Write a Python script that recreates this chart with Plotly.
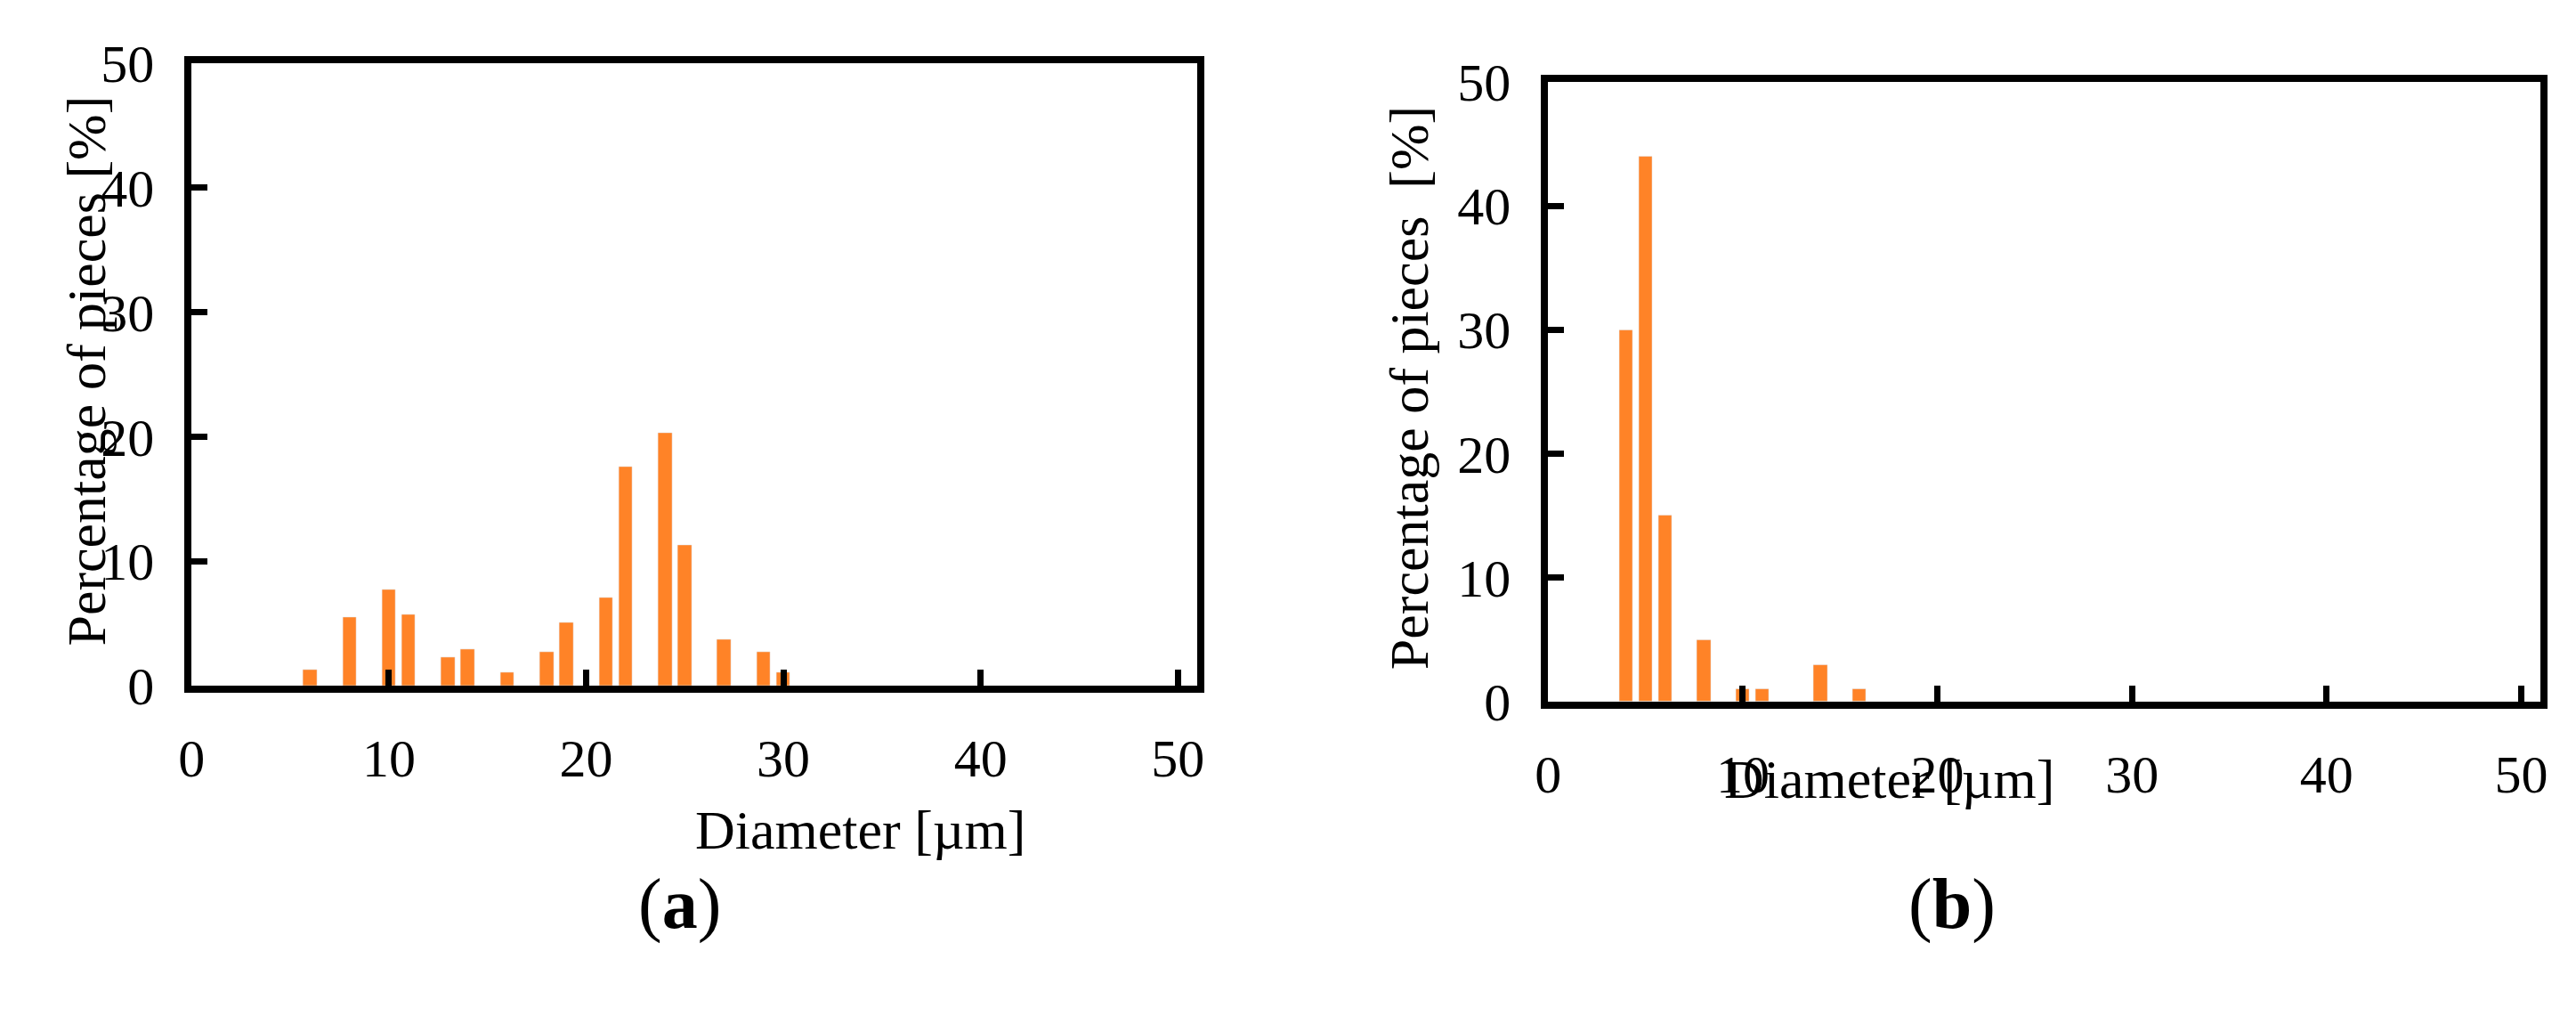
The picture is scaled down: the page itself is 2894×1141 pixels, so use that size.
import plotly.graph_objects as go

# panel (a)
diam_a = [6, 8, 10, 11, 13, 14, 16, 18, 19, 21, 22, 24, 25, 27, 29, 30]
pct_a = [1.3, 5.5, 7.7, 5.7, 2.3, 2.9, 1.1, 2.7, 5.1, 7.1, 17.6, 20.3, 11.3, 3.7, 2.7, 1.1]
# panel (b)
diam_b = [4, 5, 6, 8, 10, 11, 14, 16]
pct_b = [30, 44, 15, 5, 1, 1, 3, 1]

tick_vals = [0, 10, 20, 30, 40, 50]
orange = "#FF8327"
font = dict(family="Liberation Serif", size=60, color="black")

fig = go.Figure()
fig.add_trace(go.Bar(x=diam_a, y=pct_a, width=0.7, marker_color=orange,
                     xaxis="x", yaxis="y", showlegend=False))
fig.add_trace(go.Bar(x=diam_b, y=pct_b, width=0.7, marker_color=orange,
                     xaxis="x2", yaxis="y2", showlegend=False))

ax = dict(showline=True, mirror=True, linewidth=8, linecolor="black",
          ticks="inside", ticklen=18, tickwidth=7, tickcolor="black",
          showgrid=False, zeroline=False, tickvals=tick_vals,
          tickfont=font, ticklabelstandoff=22)

fig.update_layout(
    width=2894, height=1141, margin=dict(l=0, r=0, t=0, b=0),
    plot_bgcolor="white", paper_bgcolor="white", bargap=0,
    xaxis=dict(ax, domain=[0.067, 0.4606], range=[0, 51], anchor="y"),
    yaxis=dict(ax, domain=[0.3208, 0.971], range=[0, 50], anchor="x"),
    xaxis2=dict(ax, domain=[0.5978, 0.9862], range=[0, 51], anchor="y2"),
    yaxis2=dict(ax, domain=[0.3041, 0.9518], range=[0, 50], anchor="x2"),
)

annots = [
    dict(x=762, y=985, text="Diameter [µm]"),
    dict(x=2305, y=925, text="Diameter [µm]"),
    dict(x=38, y=400, text="Percentage of pieces [%]", textangle=-90),
    dict(x=1572, y=420, text="Percentage of pieces  [%]", textangle=-90),
    dict(x=698, y=1085, text="(<b>a</b>)", size=80),
    dict(x=2239, y=1085, text="(<b>b</b>)", size=80),
]
for a in annots:
    size = a.pop("size", 62)
    fig.add_annotation(x=a["x"] / 2894, y=1 - a["y"] / 1141, xref="paper", yref="paper",
                       text=a["text"], textangle=a.get("textangle", 0), showarrow=False,
                       font=dict(family="Liberation Serif", size=size, color="black"))

fig.write_html("out.html")
